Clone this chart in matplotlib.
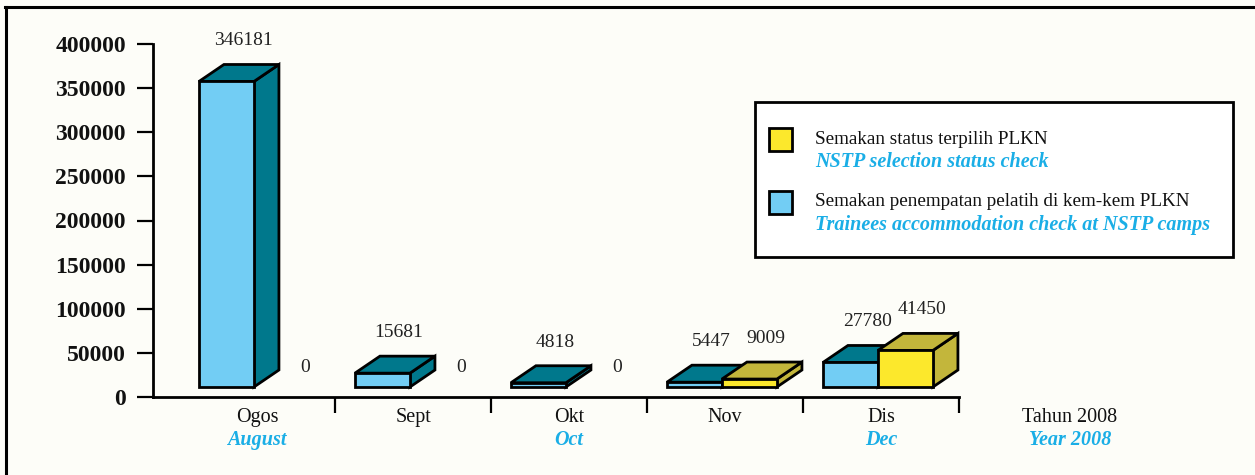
import matplotlib
matplotlib.use('Agg')
import matplotlib.pyplot as plt
from matplotlib.patches import Polygon, Rectangle
from matplotlib.lines import Line2D

# data
months_my = ['Ogos', 'Sept', 'Okt', 'Nov', 'Dis']
months_en = ['August', '', 'Oct', '', 'Dec']
accommodation = [346181, 15681, 4818, 5447, 27780]   # biru
selection = [0, 0, 0, 9009, 41450]                   # kuning
yticks = [0, 50000, 100000, 150000, 200000, 250000, 300000, 350000, 400000]

# warna
BG = '#FDFDF8'
BLUE = '#72CDF4'
TEAL = '#00788C'
YELLOW = '#FCE82C'
OLIVE = '#C3B63B'
TXTBLUE = '#1AAEE6'

plt.rcParams['font.family'] = ['Liberation Serif', 'DejaVu Serif']

W_PX, H_PX = 1255, 475
fig = plt.figure(figsize=(12.55, 4.75), dpi=100, facecolor=BG)
ax = fig.add_axes([153 / W_PX, (H_PX - 397) / H_PX,
                   (1240 - 153) / W_PX, (397 - 44) / H_PX])
ax.set_facecolor(BG)
ax.set_xlim(-0.667, 6.301)
ax.set_ylim(0, 400000)

# kedalaman 3D (unit data)
px_x = 156.0
px_y = 353.0 / 400000
DX = 25 / px_x
DY = 17 / px_y
LIFT = 10 / px_y
BW = 55 / px_x
SHIFT = -0.02


def box(x0, v, face, dark):
    y0 = LIFT
    y1 = LIFT + v
    front = Rectangle((x0, y0), BW, v, facecolor=face, edgecolor='black',
                      lw=2, clip_on=False, zorder=3, joinstyle='miter')
    side = Polygon([(x0 + BW, y0), (x0 + BW + DX, y0 + DY),
                    (x0 + BW + DX, y1 + DY), (x0 + BW, y1)],
                   facecolor=dark, edgecolor='black', lw=2, clip_on=False,
                   zorder=3, joinstyle='miter')
    top = Polygon([(x0, y1), (x0 + DX, y1 + DY), (x0 + BW + DX, y1 + DY),
                   (x0 + BW, y1)],
                  facecolor=dark, edgecolor='black', lw=2, clip_on=False,
                  zorder=3, joinstyle='miter')
    for p in (side, top, front):
        ax.add_patch(p)


for i in range(len(months_my)):
    xb = i + SHIFT - BW
    xy = i + SHIFT
    for x0, v, face, dark in ((xb, accommodation[i], BLUE, TEAL),
                              (xy, selection[i], YELLOW, OLIVE)):
        cx = x0 + BW / 2 + DX / 2
        if v > 0:
            box(x0, v, face, dark)
            ax.annotate(f'{v}', (cx, LIFT + v + DY), xytext=(3, 17),
                        textcoords='offset points', ha='center', va='center',
                        fontsize=14, color='#222222', zorder=5,
                        annotation_clip=False)
        else:
            ax.annotate('0', (cx, LIFT + DY), xytext=(8, 1.5),
                        textcoords='offset points', ha='center', va='center',
                        fontsize=14, color='#222222', zorder=5,
                        annotation_clip=False)

# paksi
for s in ('top', 'right'):
    ax.spines[s].set_visible(False)
ax.spines['left'].set_linewidth(2)
ax.spines['bottom'].set_linewidth(2)
ax.spines['left'].set_bounds(0, 400000)
ax.spines['bottom'].set_bounds(-0.667, 4.5)
ax.set_yticks(yticks)
ax.set_yticklabels([str(t) for t in yticks], fontsize=17, fontweight='bold',
                   color='#111111')
ax.tick_params(axis='y', direction='out', length=11.5, width=1.6, pad=8)
ax.set_xticks([0.5, 1.5, 2.5, 3.5, 4.5])
ax.set_xticklabels([])
ax.tick_params(axis='x', direction='out', length=11.5, width=1.6)

for i, (my, en) in enumerate(zip(months_my, months_en)):
    ax.annotate(my, (i, 0), xytext=(0, -14.5), textcoords='offset points',
                ha='center', va='center', fontsize=14.5, color='#111111',
                annotation_clip=False)
    if en:
        ax.annotate(en, (i, 0), xytext=(0, -31), textcoords='offset points',
                    ha='center', va='center', fontsize=14.5, color=TXTBLUE,
                    fontweight='bold', fontstyle='italic',
                    annotation_clip=False)
ax.annotate('Tahun 2008', (5.21, 0), xytext=(0, -14.5),
            textcoords='offset points', ha='center', va='center', fontsize=14.5,
            color='#111111', annotation_clip=False)
ax.annotate('Year 2008', (5.21, 0), xytext=(0, -31),
            textcoords='offset points', ha='center', va='center', fontsize=14.5,
            color=TXTBLUE, fontweight='bold', fontstyle='italic',
            annotation_clip=False)


# legenda (koordinat piksel -> fraksi figura)
def fx(px):
    return px / W_PX


def fy(py):
    return (H_PX - py) / H_PX


fig.patches.append(Rectangle((fx(755), fy(257)), fx(1233) - fx(755),
                             fy(102) - fy(257), transform=fig.transFigure,
                             facecolor='white', edgecolor='black', lw=2))
legend_items = [
    (YELLOW, 'Semakan status terpilih PLKN', 'NSTP selection status check', 128),
    (BLUE, 'Semakan penempatan pelatih di kem-kem PLKN',
     'Trainees accommodation check at NSTP camps', 191),
]
for col, my, en, ytop in legend_items:
    fig.patches.append(Rectangle((fx(769), fy(ytop + 23)), fx(23), fy(0) - fy(23),
                                 transform=fig.transFigure, facecolor=col,
                                 edgecolor='black', lw=2))
    fig.text(fx(815), fy(ytop + 11), my, ha='left', va='center',
             fontsize=13.8, color='#111111')
    fig.text(fx(815), fy(ytop + 34), en, ha='left', va='center',
             fontsize=14.5, color=TXTBLUE, fontweight='bold',
             fontstyle='italic')

# bingkai
fig.add_artist(Line2D([fx(5), fx(1255)], [fy(7), fy(7)], color='black',
                      lw=2.2, transform=fig.transFigure))
fig.add_artist(Line2D([fx(6), fx(6)], [fy(7), fy(475)], color='black',
                      lw=2.2, transform=fig.transFigure))

fig.savefig('out.png', dpi=100, facecolor=BG)
